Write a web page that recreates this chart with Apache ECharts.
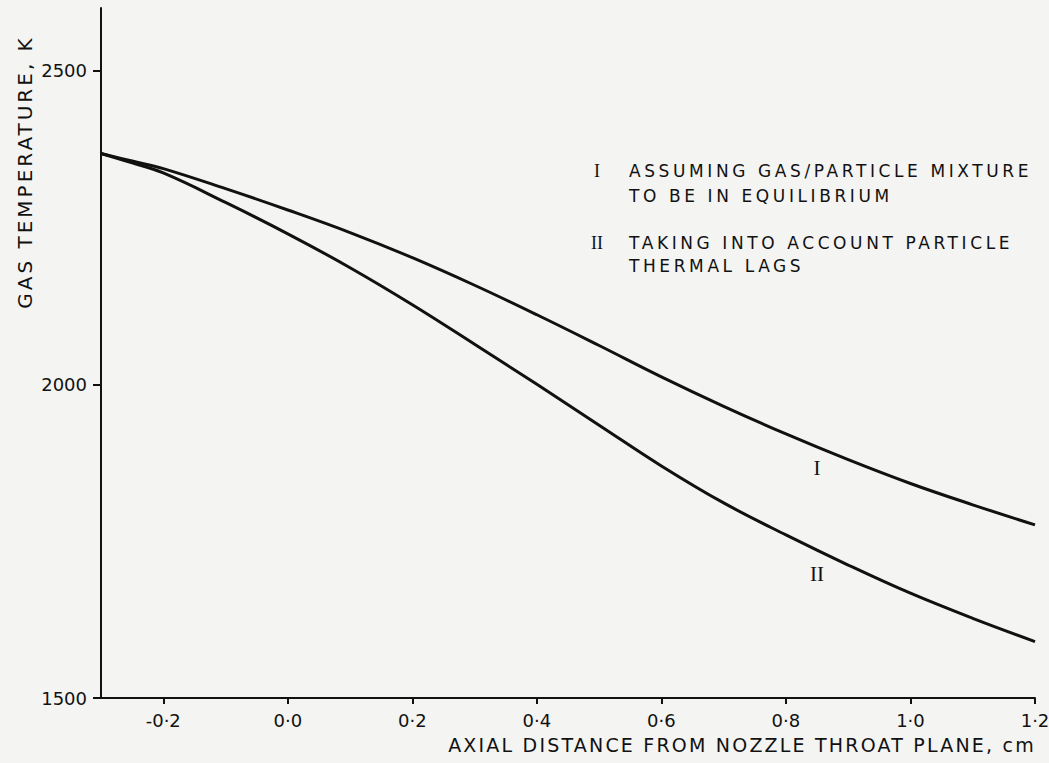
<!DOCTYPE html>
<html>
<head>
<meta charset="utf-8">
<script src="https://cdn.jsdelivr.net/npm/echarts@6/dist/echarts.min.js"></script>
<style>
  html, body { margin: 0; padding: 0; background: #f4f4f2; }
  #chart { width: 1049px; height: 763px; }
  /* widely spaced stencil-style lettering for captions */
  #chart text[style*="17px"] { letter-spacing: 3.6px; }
  #chart text[style*="19px"] { letter-spacing: 2.2px; }
  #chart text[style*="20px"] { letter-spacing: 3px; }
</style>
</head>
<body>
<div id="chart"></div>
<script>
// Axial distance from the nozzle throat plane, cm
const distance = [-0.3, -0.25, -0.2, -0.1, 0.0, 0.1, 0.2, 0.3, 0.4, 0.5, 0.6, 0.7, 0.8, 0.9, 1.0, 1.1, 1.2];
// Curve I: gas/particle mixture in equilibrium, K
const tempEquilibrium = [2368, 2356, 2344, 2312, 2278, 2242, 2202, 2158, 2111, 2062, 2012, 1965, 1921, 1880, 1842, 1808, 1776];
// Curve II: particle thermal lags included, K
const tempThermalLag = [2368, 2353, 2337, 2290, 2240, 2186, 2127, 2064, 2000, 1935, 1870, 1811, 1760, 1712, 1667, 1627, 1590];

const xTicks = [-0.2, 0.0, 0.2, 0.4, 0.6, 0.8, 1.0, 1.2];
const yTicks = [1500, 2000, 2500];

const legendLines = [
  ['I', 'ASSUMING GAS/PARTICLE MIXTURE'],
  ['', 'TO BE IN EQUILIBRIUM'],
  ['II', 'TAKING INTO ACCOUNT PARTICLE'],
  ['', 'THERMAL LAGS']
];
const legendY = [171, 196, 243, 266];

const ink = '#111111';
const sans = 'DejaVu Sans';
const serif = 'Liberation Serif';

const toPairs = (ys) => distance.map((x, i) => [x, ys[i]]);

const chart = echarts.init(document.getElementById('chart'), null, { renderer: 'svg' });

const graphics = [
  {
    type: 'text', x: 25, y: 172, rotation: Math.PI / 2,
    style: { text: 'GAS TEMPERATURE, K', fontSize: 20, fontFamily: sans, fill: ink,
             textAlign: 'center', textVerticalAlign: 'middle' }
  },
  {
    type: 'text', x: 742, y: 745,
    style: { text: 'AXIAL DISTANCE FROM NOZZLE THROAT PLANE, cm', fontSize: 19, fontFamily: sans, fill: ink,
             textAlign: 'center', textVerticalAlign: 'middle' }
  }
];
legendLines.forEach((ln, i) => {
  if (ln[0]) {
    graphics.push({
      type: 'text', x: 597, y: legendY[i],
      style: { text: ln[0], fontSize: 18, fontFamily: serif, fill: ink,
               textAlign: 'center', textVerticalAlign: 'middle' }
    });
  }
  graphics.push({
    type: 'text', x: 629, y: legendY[i],
    style: { text: ln[1], fontSize: 17, fontFamily: sans, fill: ink,
             textAlign: 'left', textVerticalAlign: 'middle' }
  });
});
// curve markers
graphics.push({
  type: 'text', x: 817, y: 468,
  style: { text: 'I', fontSize: 21, fontFamily: serif, fill: ink, textAlign: 'center', textVerticalAlign: 'middle' }
});
graphics.push({
  type: 'text', x: 817, y: 574,
  style: { text: 'II', fontSize: 21, fontFamily: serif, fill: ink, textAlign: 'center', textVerticalAlign: 'middle' }
});

const lineStyle = { color: ink, width: 3 };

chart.setOption({
  backgroundColor: '#f4f4f2',
  animation: false,
  grid: { left: 101, right: 14, top: 8, bottom: 65, outerBoundsMode: 'none' },
  xAxis: {
    type: 'value', min: -0.3, max: 1.2,
    axisLine: { show: true, onZero: false, lineStyle: { color: ink, width: 2 } },
    axisTick: { show: true, length: 6, lineStyle: { color: ink, width: 2 }, customValues: xTicks },
    axisLabel: {
      customValues: xTicks, margin: 13, color: ink, fontSize: 18, fontFamily: sans,
      formatter: (v) => v.toFixed(1).replace('.', '\u00b7')
    },
    splitLine: { show: false }
  },
  yAxis: {
    type: 'value', min: 1500, max: 2600,
    axisLine: { show: true, onZero: false, lineStyle: { color: ink, width: 2 } },
    axisTick: { show: true, length: 8, lineStyle: { color: ink, width: 2 }, customValues: yTicks },
    axisLabel: {
      customValues: yTicks, margin: 14, color: ink, fontSize: 18, fontFamily: sans,
      formatter: (v) => String(v)
    },
    splitLine: { show: false }
  },
  series: [
    { name: 'I', type: 'line', data: toPairs(tempEquilibrium), smooth: 0.4, symbol: 'none', lineStyle },
    { name: 'II', type: 'line', data: toPairs(tempThermalLag), smooth: 0.4, symbol: 'none', lineStyle }
  ],
  graphic: graphics
});
</script>
</body>
</html>
